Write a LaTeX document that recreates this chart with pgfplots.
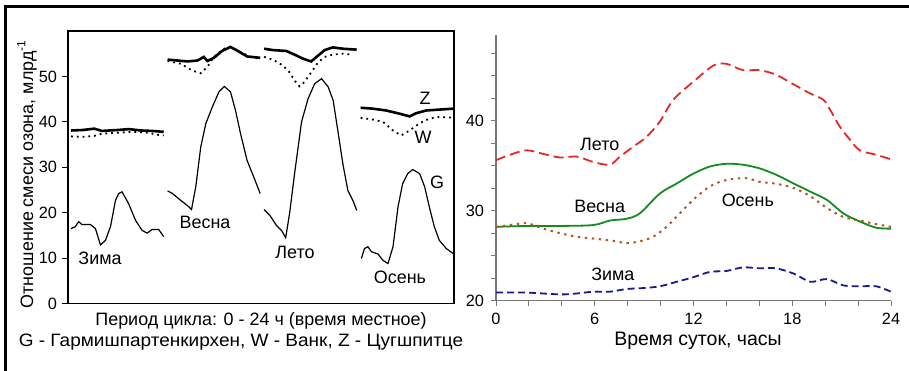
\documentclass[border=0pt]{standalone}
\usepackage{fontspec}
\setmainfont{Liberation Sans}
\usepackage{pgfplots}
\pgfplotsset{compat=1.18}
\definecolor{cred}{RGB}{228,40,40}
\definecolor{cgreen}{RGB}{20,140,30}
\definecolor{cbrown}{RGB}{185,80,40}
\definecolor{cblue}{RGB}{25,25,140}
\definecolor{cgray}{RGB}{120,120,120}
\newcommand{\fs}{\fontsize{8.2}{9.6}\selectfont}
\newcommand{\fl}{\fontsize{9}{10.8}\selectfont}
\begin{document}
\begin{tikzpicture}[every node/.style={font=\fl}]
\useasboundingbox (0,0) rectangle (454.5bp,-185.5bp);
\draw[line width=1.3bp] (454.5bp,-3.3bp) -- (2.6bp,-3.3bp) -- (2.6bp,-185.5bp);
% ---------------- left panel ----------------
\begin{axis}[at={(34bp,-151.75bp)}, anchor=south west,
  scale only axis, width=193bp, height=136.25bp,
  xmin=0, xmax=100, ymin=0, ymax=60,
  xtick=\empty, ytick={0,10,...,50}, ytick pos=left,
  tick align=outside, major tick length=3bp,
  axis line style={black, line width=0.6bp},
  tick style={black, line width=0.5bp},
  /pgf/number format/assume math mode=true,
  tick label style={font=\fs}, yticklabel style={xshift=1bp},
  clip=false]
% Зима
\addplot[black, line width=0.6bp] table[x expr=\thisrowno{0}+0.8, y index=1] {
0 16.5
1.1 16.9
1.6 17.6
2.0 18.0
2.8 17.4
5.0 17.4
6.3 16.5
7.0 14.6
7.6 12.9
8.9 13.9
10.2 16.9
11.5 22.7
12.3 24.2
13.2 24.6
14.9 22.0
16.7 18.3
18.4 16.1
19.7 15.5
21.0 16.3
22.7 16.3
24 14.7
};
\addplot[black, line width=1.3bp] table[x expr=\thisrowno{0}+0.8, y index=1] {
0 38.1
3 38.2
6 38.5
8 38.0
12 38.2
15 38.4
18 38.1
21 38.0
24 37.8
};
\addplot[black, line width=0.9bp, dotted] table[x expr=\thisrowno{0}+0.8, y index=1] {
0 36.8
3 36.7
6 36.9
8 37.4
12 37.6
16 37.8
20 37.6
22 37.2
24 37.0
};
% Весна
\addplot[black, line width=0.6bp] table[x expr=\thisrowno{0}+25.8, y index=1] {
0 24.8
1.3 24.2
3.4 22.7
5.1 21.6
6.2 20.7
7.3 25.7
8.6 34.5
9.9 39.6
11.6 43.3
13.3 46.6
14.7 47.8
16.3 46.6
17.6 42.5
18.9 37.4
20.6 31.5
22.3 27.9
24 24.2
};
\addplot[black, line width=1.3bp] table[x expr=\thisrowno{0}+25.8, y index=1] {
0 53.7
2.6 53.5
5.1 53.3
7.7 53.5
9.4 54.3
10.3 53.4
12 54.1
14.1 55.6
16.3 56.5
18 55.7
20.6 54.4
24 54.1
};
\addplot[black, line width=0.9bp, dotted] table[x expr=\thisrowno{0}+25.8, y index=1] {
0 53.4
3.4 52.8
6.4 51.3
8.6 50.7
10.3 52.1
12 54.3
14.6 56.1
16.3 56.5
18.9 55.4
21.4 54.3
24 53.9
};
% Лето
\addplot[black, line width=0.6bp] table[x expr=\thisrowno{0}+50.8, y index=1] {
0 20.7
1.5 19.4
3.2 17.2
4.5 16.1
5.6 14.5
6.6 19.8
7.9 28.6
9.7 40.0
11.4 45.1
13.1 48.4
14.9 49.5
16.6 47.7
17.9 44.7
19.1 38.1
20.4 30.8
21.7 24.9
23.0 22.7
24 20.5
};
\addplot[black, line width=1.3bp] table[x expr=\thisrowno{0}+50.8, y index=1] {
0 56.1
2.3 55.8
5.8 55.6
8.4 54.6
10.1 53.9
12.2 53.3
14.0 54.6
15.7 55.8
17.8 56.4
20.4 56.1
24 55.9
};
\addplot[black, line width=0.9bp, dotted] table[x expr=\thisrowno{0}+50.8, y index=1] {
0 54.3
2.3 53.7
4.9 52.4
6.6 50.9
7.9 49.1
9.2 47.8
10.5 48.8
12.2 50.9
14.0 53.1
15.7 54.3
17.8 54.8
20.4 55.0
23 54.8
};
% Осень
\addplot[black, line width=0.6bp] table[x expr=\thisrowno{0}+75.8, y index=1] {
0.2 9.9
1.0 12.1
1.9 12.5
2.8 11.4
4.5 10.9
5.8 9.5
7.1 8.8
8.4 12.5
9.7 21.3
10.9 26.4
12.2 28.6
13.5 29.5
15.3 28.6
16.6 25.7
17.8 21.3
19.1 16.9
20.4 13.9
22.2 12.1
24 11.0
};
\addplot[black, line width=1.3bp] table[x expr=\thisrowno{0}+75.8, y index=1] {
0 43.1
3.2 42.9
6.6 42.5
10.1 41.8
12.7 41.2
14.4 41.9
17 42.5
20.4 42.7
24 42.9
};
\addplot[black, line width=0.9bp, dotted] table[x expr=\thisrowno{0}+75.8, y index=1] {
0 40.9
3.2 40.5
5.8 40.0
8.4 38.1
10.5 37.0
12.7 38.1
15.3 39.7
17.8 40.7
20.4 41.1
24 40.9
};
\node at (axis cs:8.3,10.0) {Зима};
\node at (axis cs:35.5,17.9) {Весна};
\node at (axis cs:58.8,11.3) {Лето};
\node at (axis cs:86.0,5.8) {Осень};
\node at (axis cs:92.5,45.2) {Z};
\node at (axis cs:92.0,36.6) {W};
\node at (axis cs:95.6,26.7) {G};
\end{axis}
\node[rotate=90] at (13.5bp,-87bp) {Отношение смеси озона, млрд\textsuperscript{-1}};
\node at (130.5bp,-160.5bp) {Период цикла: 0 - 24 ч (время местное)};
\node[xscale=1.06] at (120.5bp,-171bp) {G - Гармишпартенкирхен, W - Ванк, Z - Цугшпитце};
% ---------------- right panel ----------------
\begin{axis}[at={(248bp,-150.35bp)}, anchor=south west,
  scale only axis, width=197.5bp, height=132.85bp,
  xmin=0, xmax=24, ymin=20, ymax=49.5,
  axis x line*=bottom, axis y line*=left,
  axis line style={cgray, line width=0.6bp},
  xtick={0,6,12,18,24}, minor xtick={2,4,8,10,14,16,20,22},
  ytick={20,30,40}, minor ytick={22.5,25,27.5,32.5,35,37.5,42.5,45,47.5},
  tick align=outside, major tick length=2.5bp, minor tick length=2.5bp,
  tick style={cgray, line width=0.5bp},
  /pgf/number format/assume math mode=true,
  tick label style={font=\fs}, yticklabel style={xshift=0bp},
  clip=false]
\addplot[cred, line width=0.9bp, dash pattern=on 5bp off 2.5bp, smooth] coordinates {
(0,35.6) (0.85,36.2) (1.86,36.7) (2.87,36.3) (3.89,35.9) (4.9,36.0) (5.91,35.4) (6.92,35.1) (7.53,36.0) (8.34,37.1) (9.15,38.2) (9.96,39.9) (10.77,42.3) (11.98,44.3) (13.2,46.1) (14.0,46.3) (15.0,45.6) (16.0,45.6) (17.0,45.1) (18.1,44.0) (19.1,43.0) (19.9,42.3) (20.3,41.2) (20.9,39.3) (21.5,37.9) (22.1,36.7) (23.1,36.2) (24,35.7)
};
\addplot[cgreen, line width=0.9bp, smooth] coordinates {
(0,28.2) (1.86,28.3) (3.89,28.3) (5.91,28.4) (6.92,28.9) (7.94,29.1) (8.74,29.7) (9.96,31.9) (10.97,33.0) (11.98,34.1) (13.0,34.9) (14.0,35.2) (15.0,35.1) (16.0,34.7) (17.0,34.0) (18.1,33.0) (19.1,32.1) (20.1,31.2) (21.1,29.7) (22.1,28.8) (23.1,28.1) (24,28.0)
};
\addplot[cbrown, line width=1bp, dash pattern=on 1.2bp off 2.3bp, smooth] coordinates {
(0,28.2) (0.85,28.4) (1.86,28.6) (2.87,28.0) (3.89,27.5) (4.9,27.1) (5.91,26.9) (6.92,26.7) (7.94,26.4) (8.74,26.6) (9.55,27.1) (10.36,28.2) (11.17,29.7) (11.98,31.2) (13.0,32.7) (14.0,33.4) (15.2,33.6) (16.0,33.2) (17.0,33.0) (18.1,32.5) (19.1,31.6) (20.1,30.3) (21.1,29.3) (22.1,28.9) (23.1,28.5) (24,28.2)
};
\addplot[cblue, line width=0.9bp, dash pattern=on 3.5bp off 2bp, smooth] coordinates {
(0,20.9) (1.86,20.9) (3.89,20.7) (4.9,20.8) (5.91,21.0) (6.92,21.0) (7.94,21.3) (8.94,21.4) (9.96,21.6) (10.97,22.1) (11.98,22.6) (13.0,23.2) (14.0,23.3) (15.0,23.7) (16.0,23.6) (17.0,23.6) (18.1,23.0) (19.1,22.1) (20.1,22.4) (21.1,21.7) (22.1,21.6) (23.1,21.6) (24,21.0)
};
\node at (axis cs:6.3,37.4) {Лето};
\node at (axis cs:6.3,30.5) {Весна};
\node at (axis cs:15.3,31.1) {Осень};
\node at (axis cs:7.1,22.9) {Зима};
\end{axis}
\node[font=\fontsize{9.8}{11.5}\selectfont] at (349bp,-170.5bp) {Время суток, часы};
\end{tikzpicture}
\end{document}
